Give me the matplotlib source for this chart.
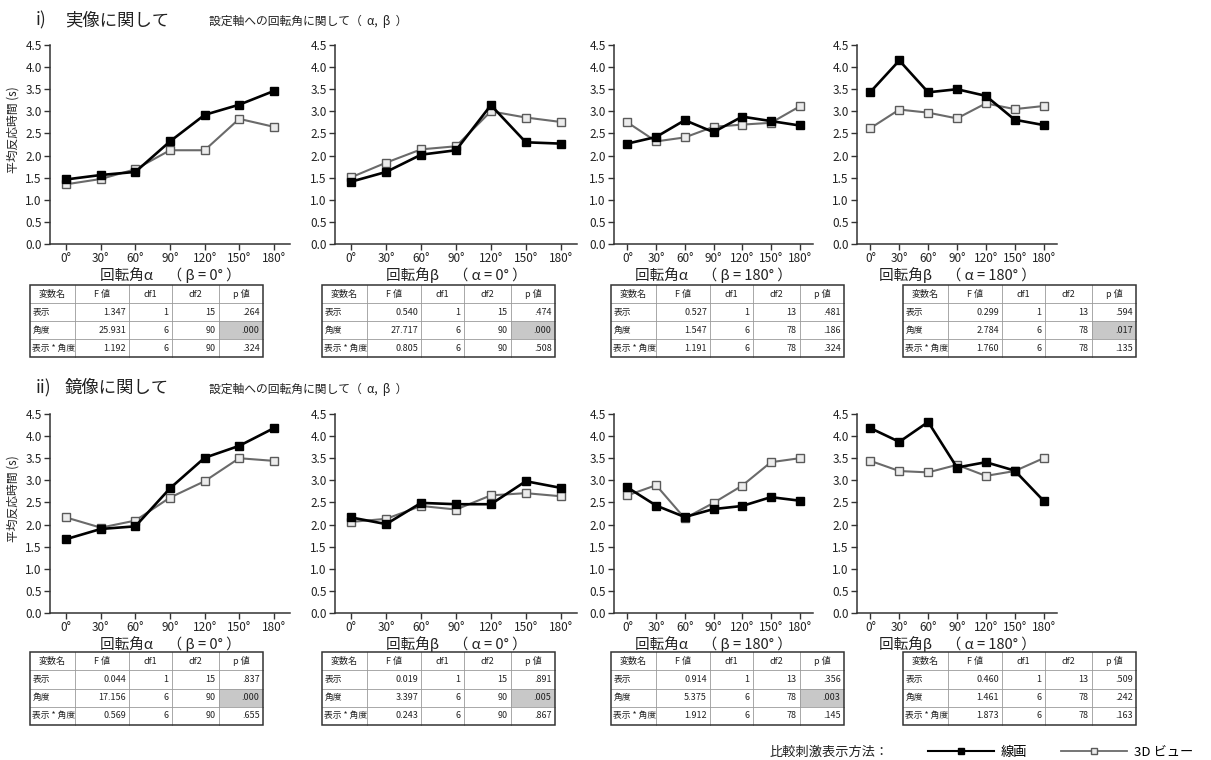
import matplotlib
matplotlib.use("Agg")
import matplotlib.pyplot as plt
from matplotlib.lines import Line2D
from matplotlib.patches import Rectangle

plt.rcParams['font.family'] = ['Noto Sans CJK JP', 'DejaVu Sans']

W, H = 1211, 760

angles = [0, 30, 60, 90, 120, 150, 180]
angle_labels = [f"{a}°" for a in angles]

# i) 実像 -- mean reaction time (s), 線画 / 3D ビュー
real_a_b0_line = [1.46, 1.56, 1.63, 2.32, 2.92, 3.15, 3.46]
real_a_b0_3d = [1.35, 1.47, 1.69, 2.12, 2.12, 2.83, 2.65]
real_b_a0_line = [1.41, 1.63, 2.02, 2.12, 3.14, 2.30, 2.27]
real_b_a0_3d = [1.51, 1.84, 2.14, 2.21, 3.00, 2.86, 2.76]
real_a_b180_line = [2.27, 2.42, 2.80, 2.53, 2.88, 2.78, 2.68]
real_a_b180_3d = [2.75, 2.32, 2.41, 2.65, 2.70, 2.74, 3.11]
real_b_a180_line = [3.44, 4.15, 3.43, 3.50, 3.35, 2.81, 2.69]
real_b_a180_3d = [2.62, 3.04, 2.97, 2.84, 3.18, 3.05, 3.12]

# ii) 鏡像
mirror_a_b0_line = [1.67, 1.90, 1.96, 2.82, 3.51, 3.78, 4.18]
mirror_a_b0_3d = [2.16, 1.93, 2.09, 2.61, 2.98, 3.50, 3.44]
mirror_b_a0_line = [2.16, 2.01, 2.49, 2.46, 2.46, 2.98, 2.83]
mirror_b_a0_3d = [2.06, 2.13, 2.42, 2.34, 2.66, 2.71, 2.64]
mirror_a_b180_line = [2.84, 2.43, 2.17, 2.35, 2.42, 2.62, 2.54]
mirror_a_b180_3d = [2.66, 2.89, 2.14, 2.49, 2.88, 3.41, 3.50]
mirror_b_a180_line = [4.18, 3.87, 4.32, 3.29, 3.41, 3.22, 2.54]
mirror_b_a180_3d = [3.44, 3.21, 3.18, 3.35, 3.10, 3.21, 3.50]

xlabels = ["回転角α　（ β = 0° ）", "回転角β　（ α = 0° ）",
           "回転角α　（ β = 180° ）", "回転角β　（ α = 180° ）"]

# ANOVA tables: F, df1, df2, p for 表示 / 角度 / 表示 * 角度
effects = ["表示", "角度", "表示 * 角度"]
table_header = ["変数名", "F 値", "df1", "df2", "p 値"]
real_F = [[1.347, 25.931, 1.192], [0.540, 27.717, 0.805],
          [0.527, 1.547, 1.191], [0.299, 2.784, 1.760]]
real_p = [[0.264, 0.000, 0.324], [0.474, 0.000, 0.508],
          [0.481, 0.186, 0.324], [0.594, 0.017, 0.135]]
mirror_F = [[0.044, 17.156, 0.569], [0.019, 3.397, 0.243],
            [0.914, 5.375, 1.912], [0.460, 1.461, 1.873]]
mirror_p = [[0.837, 0.000, 0.655], [0.891, 0.005, 0.867],
            [0.356, 0.003, 0.145], [0.509, 0.242, 0.163]]
df1 = [1, 6, 6]
df2 = [[15, 90, 90], [15, 90, 90], [13, 78, 78], [13, 78, 78]]

rows = [
    ("i)", "実像に関して",
     [(real_a_b0_line, real_a_b0_3d), (real_b_a0_line, real_b_a0_3d),
      (real_a_b180_line, real_a_b180_3d), (real_b_a180_line, real_b_a180_3d)],
     real_F, real_p),
    ("ii)", "鏡像に関して",
     [(mirror_a_b0_line, mirror_a_b0_3d), (mirror_b_a0_line, mirror_b_a0_3d),
      (mirror_a_b180_line, mirror_a_b180_3d), (mirror_b_a180_line, mirror_b_a180_3d)],
     mirror_F, mirror_p),
]

# pixel layout
chart_x = [(50, 290), (335, 577), (614, 813), (857, 1057)]
chart_y = [(45, 244), (414, 613)]
table_x = [30, 322, 611, 903]
table_w = 233
table_y = [(285, 357), (652, 725)]
title_y = [20, 388]
col_frac = [0.193, 0.233, 0.182, 0.203, 0.189]

LINE_KW = dict(color='black', lw=1.9, marker='s', ms=5.6, mfc='black', mec='black', zorder=4)
VIEW_KW = dict(color='#6a6a6a', lw=1.5, marker='s', ms=5.6, mfc='#ececec', mec='#5a5a5a',
               mew=1.0, zorder=3)


def px_axes(fig, x0, x1, y0, y1):
    return fig.add_axes([x0 / W, 1 - y1 / H, (x1 - x0) / W, (y1 - y0) / H])


def draw_chart(ax, line_vals, view_vals, xlabel):
    ax.plot(angles, view_vals, **VIEW_KW)
    ax.plot(angles, line_vals, **LINE_KW)
    ax.set_xlim(-14, 194)
    ax.set_ylim(0, 4.5)
    ax.set_xticks(angles)
    ax.set_xticklabels(angle_labels)
    ax.set_yticks([i * 0.5 for i in range(10)])
    ax.set_yticklabels([f"{i * 0.5:.1f}" for i in range(10)])
    for s in ['top', 'right']:
        ax.spines[s].set_visible(False)
    for s in ['left', 'bottom']:
        ax.spines[s].set_color('#333333')
        ax.spines[s].set_linewidth(1.1)
    ax.tick_params(direction='out', length=4, width=1, color='#333333',
                   labelsize=8.5, labelcolor='#222222', pad=2)
    ax.set_xlabel(xlabel, fontsize=10.5, color='#222222', labelpad=1)


def draw_table(ax, F, p, d2):
    ax.set_xlim(0, 1)
    ax.set_ylim(0, 1)
    ax.axis('off')
    edges = [0]
    for f in col_frac:
        edges.append(edges[-1] + f)
    rh = 1 / 4
    pad = 0.01
    for r, eff in enumerate(effects):
        y = 1 - rh * (r + 1.5)
        if p[r] < 0.05:
            ax.add_patch(Rectangle((edges[4], 1 - rh * (r + 2)), edges[5] - edges[4], rh,
                                   facecolor='#c8c8c8', edgecolor='none', zorder=0))
        cells = [f"{F[r]:.3f}", f"{df1[r]}", f"{d2[r]}", f"{p[r]:.3f}".lstrip('0')]
        ax.text(pad, y, eff, ha='left', va='center', fontsize=6.3, color='#222222')
        for c, txt in enumerate(cells):
            ax.text(edges[c + 2] - pad - 0.004, y, txt, ha='right', va='center',
                    fontsize=6.5, color='#222222')
    for c, txt in enumerate(table_header):
        ax.text((edges[c] + edges[c + 1]) / 2, 1 - rh * 0.5, txt, ha='center',
                va='center', fontsize=6.5, color='#222222')
    for k in range(1, 4):
        ax.plot([0, 1], [k * rh, k * rh], color='#9a9a9a', lw=0.6, clip_on=False)
    for e in edges[1:-1]:
        ax.plot([e, e], [0, 1], color='#9a9a9a', lw=0.6, clip_on=False)
    ax.add_patch(Rectangle((0, 0), 1, 1, fill=False, edgecolor='#333333', lw=1.1,
                           clip_on=False, zorder=5))


fig = plt.figure(figsize=(W / 100, H / 100), dpi=100)

for ri, (num, title, series, F_vals, p_vals) in enumerate(rows):
    ty = 1 - title_y[ri] / H
    fig.text(36 / W, ty, num, fontsize=12.5, va='center', color='#222222')
    fig.text(65 / W, ty, title, fontsize=12.5, va='center', color='#222222')
    fig.text(209 / W, ty - 1 / H, "設定軸への回転角に関して（  α,  β  ）", fontsize=8.5,
             va='center', color='#222222')
    y0, y1 = chart_y[ri]
    for ci, (line_vals, view_vals) in enumerate(series):
        ax = px_axes(fig, chart_x[ci][0], chart_x[ci][1], y0, y1)
        draw_chart(ax, line_vals, view_vals, xlabels[ci])
        tax = px_axes(fig, table_x[ci], table_x[ci] + table_w, table_y[ri][0], table_y[ri][1])
        draw_table(tax, F_vals[ci], p_vals[ci], df2[ci])
    fig.text(13 / W, 1 - (y0 + y1 - 30) / 2 / H, "平均反応時間 (s)", rotation=90,
             fontsize=8.5, ha='center', va='center', color='#222222')

# legend
leg_y = 1 - 752 / H
fig.text(770 / W, leg_y, "比較刺激表示方法：", fontsize=9.5, va='center', color='#222222')
handles = [Line2D([], [], color='black', lw=1.5, marker='s', ms=5, mfc='black', mec='black'),
           Line2D([], [], color='#6a6a6a', lw=1.3, marker='s', ms=5, mfc='#ececec',
                  mec='#5a5a5a')]
fig.legend(handles, ["線画", "3D ビュー"], loc='center left', bbox_to_anchor=(928 / W, leg_y),
           ncol=2, frameon=False, fontsize=9.5, handlelength=5.0, handletextpad=0.5,
           columnspacing=2.6, borderpad=0, borderaxespad=0, numpoints=1)

fig.savefig("out.png", dpi=100, facecolor='white')
